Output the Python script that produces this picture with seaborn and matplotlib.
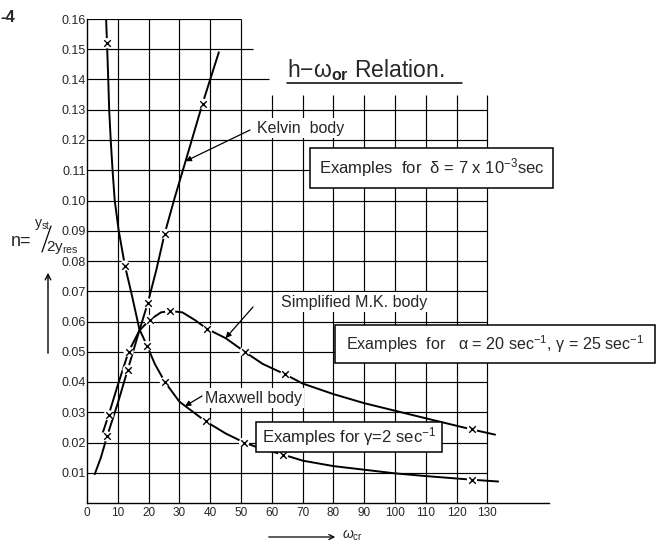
import matplotlib
matplotlib.use("Agg")
import matplotlib.pyplot as plt
import pandas as pd
import seaborn as sns
from matplotlib.patches import Rectangle
from matplotlib.lines import Line2D

# ---------------- data ----------------
x_ticks = [0, 10, 20, 30, 40, 50, 60, 70, 80, 90, 100, 110, 120, 130]
y_ticks = [0.01, 0.02, 0.03, 0.04, 0.05, 0.06, 0.07, 0.08,
           0.09, 0.10, 0.11, 0.12, 0.13, 0.14, 0.15, 0.16]
y_tick_labels = ["0.01", "0.02", "0.03", "0.04", "0.05", "0.06", "0.07", "0.08",
                 "0.09", "0.10", "0.11", "0.12", "0.13", "0.14", "0.15", "0.16"]

# Kelvin body
kelvin_curve_x = [2.5, 4.5, 6.5, 10, 13.2, 17, 19.7, 22.5, 25.2, 28.5, 32, 37.5, 42.8]
kelvin_curve_y = [0.0095, 0.015, 0.022, 0.033, 0.044, 0.057, 0.066, 0.077, 0.089, 0.101,
                  0.113, 0.132, 0.149]
kelvin_pts_x = [6.5, 13.2, 19.7, 25.2, 37.5]
kelvin_pts_y = [0.022, 0.044, 0.066, 0.089, 0.132]

# Simplified M.K. body
mk_curve_x = [5.2, 7, 10, 13.5, 17, 20.3, 24, 27, 31, 35, 39.1, 45, 51.2, 57, 64.4,
              70, 80, 90, 100, 110, 125, 132.5]
mk_curve_y = [0.0235, 0.029, 0.039, 0.050, 0.057, 0.0605, 0.063, 0.0635, 0.063, 0.0605,
              0.0575, 0.0545, 0.050, 0.046, 0.0425, 0.0395, 0.036, 0.033, 0.0305,
              0.028, 0.0243, 0.0226]
mk_pts_x = [7, 13.5, 20.3, 27, 39.1, 51.2, 64.4, 125]
mk_pts_y = [0.029, 0.050, 0.0605, 0.0635, 0.0575, 0.050, 0.0425, 0.0243]

# Maxwell body
mx_curve_x = [6.2, 6.5, 6.9, 7.2, 7.7, 8.3, 9, 10.3, 12.3, 14.5, 17, 19.5, 22, 25.3,
              30, 38.5, 45, 51, 57, 63.7, 70, 80, 90, 100, 110, 120, 125, 133.5]
mx_curve_y = [0.160, 0.152, 0.140, 0.130, 0.120, 0.110, 0.100, 0.090, 0.0785, 0.069,
              0.0575, 0.052, 0.046, 0.040, 0.0335, 0.027, 0.023, 0.020, 0.0178, 0.016,
              0.014, 0.0122, 0.011, 0.0098, 0.0089, 0.0081, 0.0077, 0.0071]
mx_pts_x = [6.5, 12.3, 19.5, 25.3, 38.5, 51, 63.7, 125]
mx_pts_y = [0.152, 0.0785, 0.052, 0.040, 0.027, 0.020, 0.016, 0.0077]

# ---------------- style ----------------
sns.set_style("white")
plt.rcParams["font.family"] = ["Liberation Sans", "DejaVu Sans"]
plt.rcParams["mathtext.fontset"] = "custom"
plt.rcParams["mathtext.rm"] = "Liberation Sans"
plt.rcParams["mathtext.it"] = "Liberation Sans:italic"
plt.rcParams["mathtext.bf"] = "Liberation Sans:bold"

W, H = 656, 543
fig = plt.figure(figsize=(W / 100, H / 100), dpi=100)
PX0, PX1, PY0, PY1 = 87, 549, 503, 19          # axes box in pixels
ax = fig.add_axes([PX0 / W, 1 - PY0 / H, (PX1 - PX0) / W, (PY0 - PY1) / H])
ax.set_xlim(0, 150)
ax.set_ylim(0, 0.16)

INK = "black"

# grid (partially blank in the title area)
for yv in y_ticks:
    xmax = 50 if yv > 0.155 else (54 if yv > 0.145 else (59 if yv > 0.135 else 130))
    ax.hlines(yv, 0, xmax, color=INK, lw=0.85, zorder=1)
for xv in x_ticks[1:]:
    ymax = 0.16 if xv <= 50 else 0.135
    ax.vlines(xv, 0, ymax, color=INK, lw=0.85, zorder=1)

# curves
curves = [(kelvin_curve_x, kelvin_curve_y), (mk_curve_x, mk_curve_y), (mx_curve_x, mx_curve_y)]
for cx, cy in curves:
    dfc = pd.DataFrame({"x": cx, "y": cy})
    sns.lineplot(data=dfc, x="x", y="y", sort=False, estimator=None, color=INK,
                 lw=1.4, ax=ax, zorder=3)

pts = pd.DataFrame({"x": kelvin_pts_x + mk_pts_x + mx_pts_x,
                    "y": kelvin_pts_y + mk_pts_y + mx_pts_y})
sns.scatterplot(data=pts, x="x", y="y", marker="o", s=55, color="white",
                edgecolor="none", ax=ax, zorder=3.5)
sns.scatterplot(data=pts, x="x", y="y", marker="x", s=22, color=INK,
                linewidth=1.0, ax=ax, zorder=4)

# axes look
ax.set_xticks(x_ticks)
ax.set_xticklabels([str(v) for v in x_ticks], fontsize=8.5)
ax.set_yticks(y_ticks)
ax.set_yticklabels(y_tick_labels, fontsize=9)
ax.tick_params(axis="both", length=0)
ax.tick_params(axis="x", pad=3)
ax.tick_params(axis="y", pad=1)
ax.set_xlabel("")
ax.set_ylabel("")
for s in ["top", "right"]:
    ax.spines[s].set_visible(False)
for s in ["left", "bottom"]:
    ax.spines[s].set_color(INK)
    ax.spines[s].set_linewidth(1.0)
ax.spines["left"].set_zorder(2)


def d(px, py):
    """pixel position of the reference -> data coordinates"""
    return ((px - PX0) / (PX1 - PX0) * 150, (PY0 - py) / (PY0 - PY1) * 0.16)


# title
tx, ty = d(287, 70)
ax.text(tx, ty, r"h$-$ω$_{\mathbf{or}}$ Relation.", fontsize=16.5, ha="left",
        va="center", zorder=6)
fig.add_artist(Line2D([287 / W, 462 / W], [1 - 83 / H, 1 - 83 / H], color=INK, lw=1.1))

# curve labels with arrows
lab_kw = dict(fontsize=11.5, ha="left", va="center", zorder=5,
              bbox=dict(boxstyle="square,pad=0.15", fc="white", ec="none"))
arr_kw = dict(arrowstyle="-|>", color=INK, lw=0.9, mutation_scale=8,
              shrinkA=0, shrinkB=0)

ax.text(*d(257, 128), "Kelvin  body", **lab_kw)
ax.annotate("", xy=(32, 0.113), xytext=d(250, 130), arrowprops=arr_kw, zorder=5)

ax.text(*d(281, 302), "Simplified M.K. body", **lab_kw)
ax.annotate("", xy=(45, 0.0545), xytext=d(253, 307), arrowprops=arr_kw, zorder=5)

ax.text(*d(205, 398), "Maxwell body", **lab_kw)
ax.annotate("", xy=(31.8, 0.032), xytext=d(202, 396), arrowprops=arr_kw, zorder=5)

# boxed notes
boxes = [
    ((310, 148, 553, 188), r"Examples  for  δ = 7 x 10$^{-3}$sec", 12),
    ((335, 325, 655, 363), r"Examples  for   α = 20 sec$^{-1}$, γ = 25 sec$^{-1}$", 11.6),
    ((256, 422, 442, 452), r"Examples for γ=2 sec$^{-1}$", 12),
]
for (l, t, r, b), txt, fs in boxes:
    x0, y0 = d(l, b)
    x1, y1 = d(r, t)
    ax.add_patch(Rectangle((x0, y0), x1 - x0, y1 - y0, fc="white", ec=INK,
                           lw=1.1, zorder=5, clip_on=False))
    ax.text((x0 + x1) / 2, (y0 + y1) / 2, txt, fontsize=fs, ha="center",
            va="center", zorder=6, clip_on=False)

# y-axis label  n = y_st / 2 y_res
fig.text(0 / W, 1 - 18 / H, "-4", fontsize=12, fontweight="bold", ha="left", va="center")
fig.text(21 / W, 1 - 242 / H, "n=", fontsize=13, ha="center", va="center")
fig.text(42 / W, 1 - 225 / H, r"y$_{\rm st}$", fontsize=10, ha="center", va="center")
fig.add_artist(Line2D([51 / W, 42 / W], [1 - 226 / H, 1 - 252 / H], color=INK, lw=0.9))
fig.text(46 / W, 1 - 247 / H, r"2y$_{\rm res}$", fontsize=11, ha="left", va="center")
ax.annotate("", xy=(48, H - 270), xytext=(48, H - 356), xycoords="figure pixels",
            textcoords="figure pixels",
            arrowprops=dict(arrowstyle="->", color=INK, lw=1.0, mutation_scale=10))

# x-axis label
ax.annotate("", xy=(338, H - 537), xytext=(266, H - 537), xycoords="figure pixels",
            textcoords="figure pixels",
            arrowprops=dict(arrowstyle="->", color=INK, lw=0.9, mutation_scale=9))
fig.text(342 / W, 1 - 536 / H, r"ω$_{\rm cr}$", fontsize=10, ha="left", va="center",
         style="italic")

fig.savefig("out.png", dpi=100)
